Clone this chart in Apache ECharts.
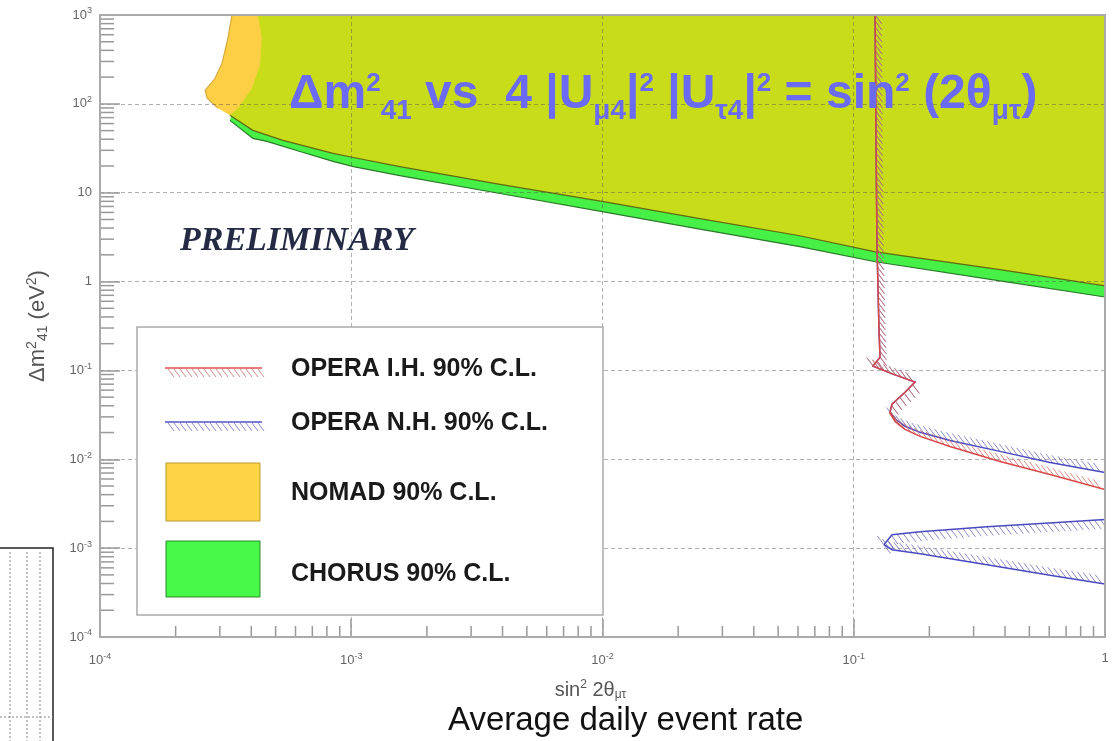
<!doctype html>
<html lang="en">
<head>
<meta charset="UTF-8">
<title>OPERA sterile neutrino exclusion</title>
<script src="https://cdn.jsdelivr.net/npm/echarts@6/dist/echarts.min.js"></script>
<style>
	html, body { margin: 0; padding: 0; background: #fff; }
	#main { width: 1113px; height: 741px; }
</style>
</head>
<body>
<div id="main"></div>
<script>
	// axis ticks
	var xTicks = [1e-4, 1e-3, 1e-2, 1e-1, 1];
	var xTickLabels = ['10{e|-4}', '10{e|-3}', '10{e|-2}', '10{e|-1}', '1'];
	var yTicks = [1e-4, 1e-3, 1e-2, 1e-1, 1, 10, 1e2, 1e3];
	var yTickLabels = ['10{e|-4}', '10{e|-3}', '10{e|-2}', '10{e|-1}', '1', '10', '10{e|2}', '10{e|3}'];
	var minorSteps = [2, 3, 4, 5, 6, 7, 8, 9];

	// NOMAD 90% C.L. : left edge (top -> down) and lower edge (left -> right)
	var nomadLeft = [[3.35e-4, 1000], [3.23e-4, 550], [3.06e-4, 287], [2.87e-4, 194], [2.62e-4, 142], [2.67e-4, 116], [2.95e-4, 89]];
	var nomadLower = [[3.29e-4, 74.3], [4.06e-4, 50.3], [5.35e-4, 38.8], [8.46e-4, 27.7], [1.02e-3, 24.9], [1.56e-3, 19.7],
		[3.91e-3, 12.4], [1.01e-2, 7.94], [2.44e-2, 5.1], [6.1e-2, 3.28], [0.122, 2.16], [0.382, 1.36], [1, 0.895]];

	// CHORUS 90% C.L.
	var chorusLeft = [[4.25e-4, 1000], [4.41e-4, 550], [4.33e-4, 272], [4.03e-4, 150], [3.78e-4, 116], [3.54e-4, 89], [3.35e-4, 78]];
	var chorusLower = [[3.29e-4, 65.2], [4.06e-4, 40.8], [4.62e-4, 37.8], [6.25e-4, 29.1], [8.46e-4, 22.5], [1.02e-3, 19.7], [1.56e-3, 15.6],
		[3.91e-3, 9.8], [1.01e-2, 6.1], [2.44e-2, 3.9], [6.1e-2, 2.47], [0.122, 1.67], [0.382, 1.02], [1, 0.67]];

	// OPERA inverted hierarchy 90% C.L.
	var operaIH = [[0.1216, 1000], [0.1227, 31.5], [0.1238, 2.34], [0.126, 0.292], [0.1272, 0.141], [0.1193, 0.1117], [0.1432, 0.0908],
		[0.1754, 0.0738], [0.160, 0.0569], [0.142, 0.0416], [0.1393, 0.0338], [0.1459, 0.0267], [0.160, 0.0217], [0.1837, 0.0181],
		[0.2415, 0.01396], [0.382, 0.00946], [0.604, 0.00675], [1, 0.00457]];
	// OPERA normal hierarchy 90% C.L.
	var operaNH = [[0.1216, 1000], [0.1227, 31.5], [0.1238, 2.34], [0.126, 0.292], [0.1272, 0.141], [0.1193, 0.1117], [0.1432, 0.0908],
		[0.1754, 0.0738], [0.160, 0.0569], [0.142, 0.0416], [0.1393, 0.0338], [0.147, 0.028], [0.160, 0.0235], [0.1837, 0.0201],
		[0.2415, 0.0163], [0.382, 0.01227], [0.604, 0.0092], [1, 0.0071]];
	var operaNHIslandUpper = [[0.1318, 0.001093], [0.142, 0.001416], [0.1837, 0.00153], [0.339, 0.001746], [0.621, 0.001936], [1, 0.002094]];
	var operaNHIslandLower = [[0.1318, 0.001093], [0.142, 0.00096], [0.1837, 0.000865], [0.339, 0.00065], [0.621, 0.000489], [1, 0.000396]];

	var xMinor = [], yMinor = [];
	xTicks.slice(0, -1).forEach(function (t) { minorSteps.forEach(function (k) { xMinor.push([t * k, 1e-4]); }); });
	yTicks.slice(0, -1).forEach(function (t) { minorSteps.forEach(function (k) { yMinor.push([1e-4, t * k]); }); });

	function tickLabel(ticks, labels) {
		return function (v) {
			for (var i = 0; i < ticks.length; i++) {
				if (Math.abs(Math.log10(v) - Math.log10(ticks[i])) < 0.01) return labels[i];
			}
			return '';
		};
	}

	function areaSeries(pts, outline, fill, edgeColor) {
		return {
			type: 'custom', coordinateSystem: 'cartesian2d', silent: true, z: 1,
			data: pts,
			renderItem: function (params, api) {
				if (params.dataIndex !== 0) return;
				var poly = pts.map(function (p) { return api.coord(p); });
				var edge = outline.map(function (p) { return api.coord(p); });
				return {
					type: 'group', children: [
						{ type: 'polygon', shape: { points: poly }, style: { fill: fill } },
						{ type: 'polyline', shape: { points: edge }, style: { fill: null, stroke: edgeColor, lineWidth: 1.2 } }
					]
				};
			}
		};
	}

	// curve with ROOT style hatching on one side (side = +1 / -1)
	function hatchedLine(pts, side, lineColor, hatchColor, z) {
		return {
			type: 'custom', coordinateSystem: 'cartesian2d', silent: true, clip: true, z: z,
			data: pts,
			renderItem: function (params, api) {
				if (params.dataIndex !== 0) return;
				var px = pts.map(function (p) { return api.coord(p); });
				var children = [];
				var step = 6, len = 11, carry = 0;
				for (var i = 0; i < px.length - 1; i++) {
					var a = px[i], b = px[i + 1];
					var dx = b[0] - a[0], dy = b[1] - a[1], L = Math.sqrt(dx * dx + dy * dy);
					if (L < 0.01) continue;
					var tx = dx / L, ty = dy / L;
					var nx = -ty * side, ny = tx * side;
					var hx = 0.6, hy = 0.8;
					if (hx * nx + hy * ny < 0) { hx = -hx; hy = -hy; }
					var s = carry;
					for (; s < L; s += step) {
						var x0 = a[0] + tx * s, y0 = a[1] + ty * s;
						children.push({ type: 'line', shape: { x1: x0, y1: y0, x2: x0 + hx * len, y2: y0 + hy * len }, style: { stroke: hatchColor, lineWidth: 1 } });
					}
					carry = s - L;
				}
				children.push({ type: 'polyline', shape: { points: px }, style: { fill: null, stroke: lineColor, lineWidth: 1.5 } });
				return { type: 'group', children: children };
			}
		};
	}

	function tickSeries(data, dx, dy) {
		return {
			type: 'custom', coordinateSystem: 'cartesian2d', silent: true, z: 7,
			data: data,
			renderItem: function (params, api) {
				var c = api.coord([api.value(0), api.value(1)]);
				return { type: 'line', shape: { x1: c[0], y1: c[1], x2: c[0] + dx, y2: c[1] + dy }, style: { stroke: '#999', lineWidth: 1.5 } };
			}
		};
	}

	var myChart = echarts.init(document.getElementById('main'));

	var supRich = { e: { fontSize: 9, color: '#666', padding: [0, 0, 8, 0] } };

	var legendGraphic = [
		{ type: 'rect', shape: { x: 137, y: 327, width: 466, height: 288 }, style: { fill: '#fff', stroke: '#aaa', lineWidth: 1.5 }, z: 100 },
		{ type: 'line', shape: { x1: 165, y1: 368, x2: 262, y2: 368 }, style: { stroke: '#e05050', lineWidth: 1.5 }, z: 101 },
		{ type: 'line', shape: { x1: 165, y1: 422, x2: 262, y2: 422 }, style: { stroke: '#5050c8', lineWidth: 1.5 }, z: 101 },
		{ type: 'rect', shape: { x: 166, y: 463, width: 94, height: 58 }, style: { fill: '#ffd444', stroke: '#b89a30', lineWidth: 1 }, z: 101 },
		{ type: 'rect', shape: { x: 166, y: 541, width: 94, height: 56 }, style: { fill: '#48f848', stroke: '#2c8a2c', lineWidth: 1 }, z: 101 }
	];
	for (var hx = 168; hx < 260; hx += 6) {
		legendGraphic.push({ type: 'line', shape: { x1: hx, y1: 369, x2: hx + 6, y2: 377 }, style: { stroke: 'rgba(200,110,110,0.8)', lineWidth: 1 }, z: 101 });
		legendGraphic.push({ type: 'line', shape: { x1: hx, y1: 423, x2: hx + 6, y2: 431 }, style: { stroke: 'rgba(110,110,190,0.8)', lineWidth: 1 }, z: 101 });
	}
	var legendFont = { fontFamily: 'Liberation Sans', fontWeight: 'bold', fontSize: 25, fill: '#1a1a1a' };
	[['OPERA I.H. 90% C.L.', 368], ['OPERA N.H. 90% C.L.', 422], ['NOMAD 90% C.L.', 492], ['CHORUS 90% C.L.', 573]].forEach(function (it) {
		legendGraphic.push({
			type: 'text', left: 291, top: it[1] - 11, z: 102,
			style: Object.assign({ text: it[0] }, legendFont)
		});
	});

	var option = {
		animation: false,
		grid: { left: 100, right: 8, top: 15, bottom: 104, show: true, borderColor: '#aaa', borderWidth: 2, backgroundColor: 'transparent', z: 8 },
		xAxis: {
			type: 'log', logBase: 10, min: 1e-4, max: 1, z: 4,
			axisLine: { onZero: false, lineStyle: { color: '#999', width: 2 } },
			axisTick: { inside: true, length: 18, lineStyle: { color: '#999', width: 1.5 } },
			axisLabel: { formatter: tickLabel(xTicks, xTickLabels), color: '#666', fontSize: 13, margin: 15, fontFamily: 'Liberation Sans', rich: supRich },
			splitLine: { show: true, lineStyle: { color: 'rgba(80,80,80,0.45)', type: [4, 3], width: 1 } },
			name: 'sin{s|2} 2θ{b|μτ}', nameLocation: 'middle', nameGap: 42,
			nameTextStyle: {
				fontSize: 20, color: '#555', fontFamily: 'Liberation Sans', padding: [0, 24, 0, 0],
				rich: { s: { fontSize: 12, color: '#555', padding: [0, 0, 10, 0] }, b: { fontSize: 12, color: '#555', padding: [10, 0, 0, 0] } }
			}
		},
		yAxis: {
			type: 'log', logBase: 10, min: 1e-4, max: 1000, z: 4,
			axisLine: { onZero: false, lineStyle: { color: '#999', width: 2 } },
			axisTick: { inside: true, length: 20, lineStyle: { color: '#999', width: 1.5 } },
			axisLabel: { formatter: tickLabel(yTicks, yTickLabels), color: '#666', fontSize: 13, margin: 8, fontFamily: 'Liberation Sans', rich: supRich },
			splitLine: { show: true, lineStyle: { color: 'rgba(80,80,80,0.45)', type: [4, 3], width: 1 } },
			name: 'Δm{s|2}{b|41} (eV{s|2})', nameLocation: 'middle', nameGap: 50, nameRotate: 90,
			nameTextStyle: {
				fontSize: 22, color: '#555', fontFamily: 'Liberation Sans',
				rich: { s: { fontSize: 14, color: '#555', padding: [0, 0, 11, 0] }, b: { fontSize: 14, color: '#555', padding: [11, 0, 0, 0] } }
			}
		},
		series: [
			areaSeries(chorusLeft.concat(chorusLower, [[1, 1000]]), chorusLower, '#46f046', '#2a7a2a'),
			areaSeries(nomadLeft.concat(nomadLower, [[1, 1000]]), nomadLeft, '#fdcf45', '#d8a840'),
			areaSeries(chorusLeft.concat(nomadLower, [[1, 1000]]), nomadLower, '#c8dc1a', '#5d6a10'),
			hatchedLine(operaNH, -1, '#4a4ac0', 'rgba(100,100,180,0.75)', 5),
			hatchedLine(operaIH, -1, '#d84848', 'rgba(205,110,100,0.8)', 6),
			hatchedLine(operaNHIslandUpper, 1, '#4a4ac0', 'rgba(100,100,180,0.75)', 5),
			hatchedLine(operaNHIslandLower, -1, '#4a4ac0', 'rgba(100,100,180,0.75)', 5),
			tickSeries(xMinor, 0, -11),
			tickSeries(yMinor, 14, 0)
		],
		graphic: legendGraphic.concat([
			{
				type: 'text', left: 180, top: 224, z: 100,
				style: { text: 'PRELIMINARY', fontFamily: 'Liberation Serif', fontStyle: 'italic', fontWeight: 'bold', fontSize: 34, fill: '#262b45' }
			},
			{
				type: 'text', left: 289, top: 60, z: 110,
				style: {
					text: 'Δm{p|2}{d|41} vs  4 |U{d|μ4}|{p|2} |U{d|τ4}|{p|2} = sin{p|2} (2θ{d|μτ})',
					fontFamily: 'Liberation Sans', fontWeight: 'bold', fontSize: 48, fill: '#6a6af2', lineHeight: 70,
					rich: {
						p: { fontSize: 26, fontWeight: 'bold', fill: '#6a6af2', padding: [0, 0, 22, 0] },
						d: { fontSize: 28, fontWeight: 'bold', fill: '#6a6af2', padding: [32, 0, 0, 0] }
					}
				}
			},
			{
				type: 'text', left: 444, top: 701, z: 110,
				style: { text: 'Average daily event rate', fontFamily: 'Liberation Sans', fontSize: 33, fill: '#111', backgroundColor: '#fff', padding: [3, 4, 8, 4] }
			},
			// piece of the neighbouring plot on the slide
			{ type: 'polyline', shape: { points: [[0, 548], [53, 548], [53, 741]] }, style: { stroke: '#222', lineWidth: 1.5, fill: null }, z: 100 },
			{ type: 'line', shape: { x1: 10, y1: 552, x2: 10, y2: 741 }, style: { stroke: '#888', lineDash: [2, 2] }, z: 100 },
			{ type: 'line', shape: { x1: 27, y1: 552, x2: 27, y2: 741 }, style: { stroke: '#888', lineDash: [2, 2] }, z: 100 },
			{ type: 'line', shape: { x1: 40, y1: 552, x2: 40, y2: 741 }, style: { stroke: '#888', lineDash: [2, 2] }, z: 100 },
			{ type: 'line', shape: { x1: 0, y1: 717, x2: 53, y2: 717 }, style: { stroke: '#888', lineDash: [2, 2] }, z: 100 }
		])
	};
	myChart.setOption(option);
</script>
</body>
</html>
